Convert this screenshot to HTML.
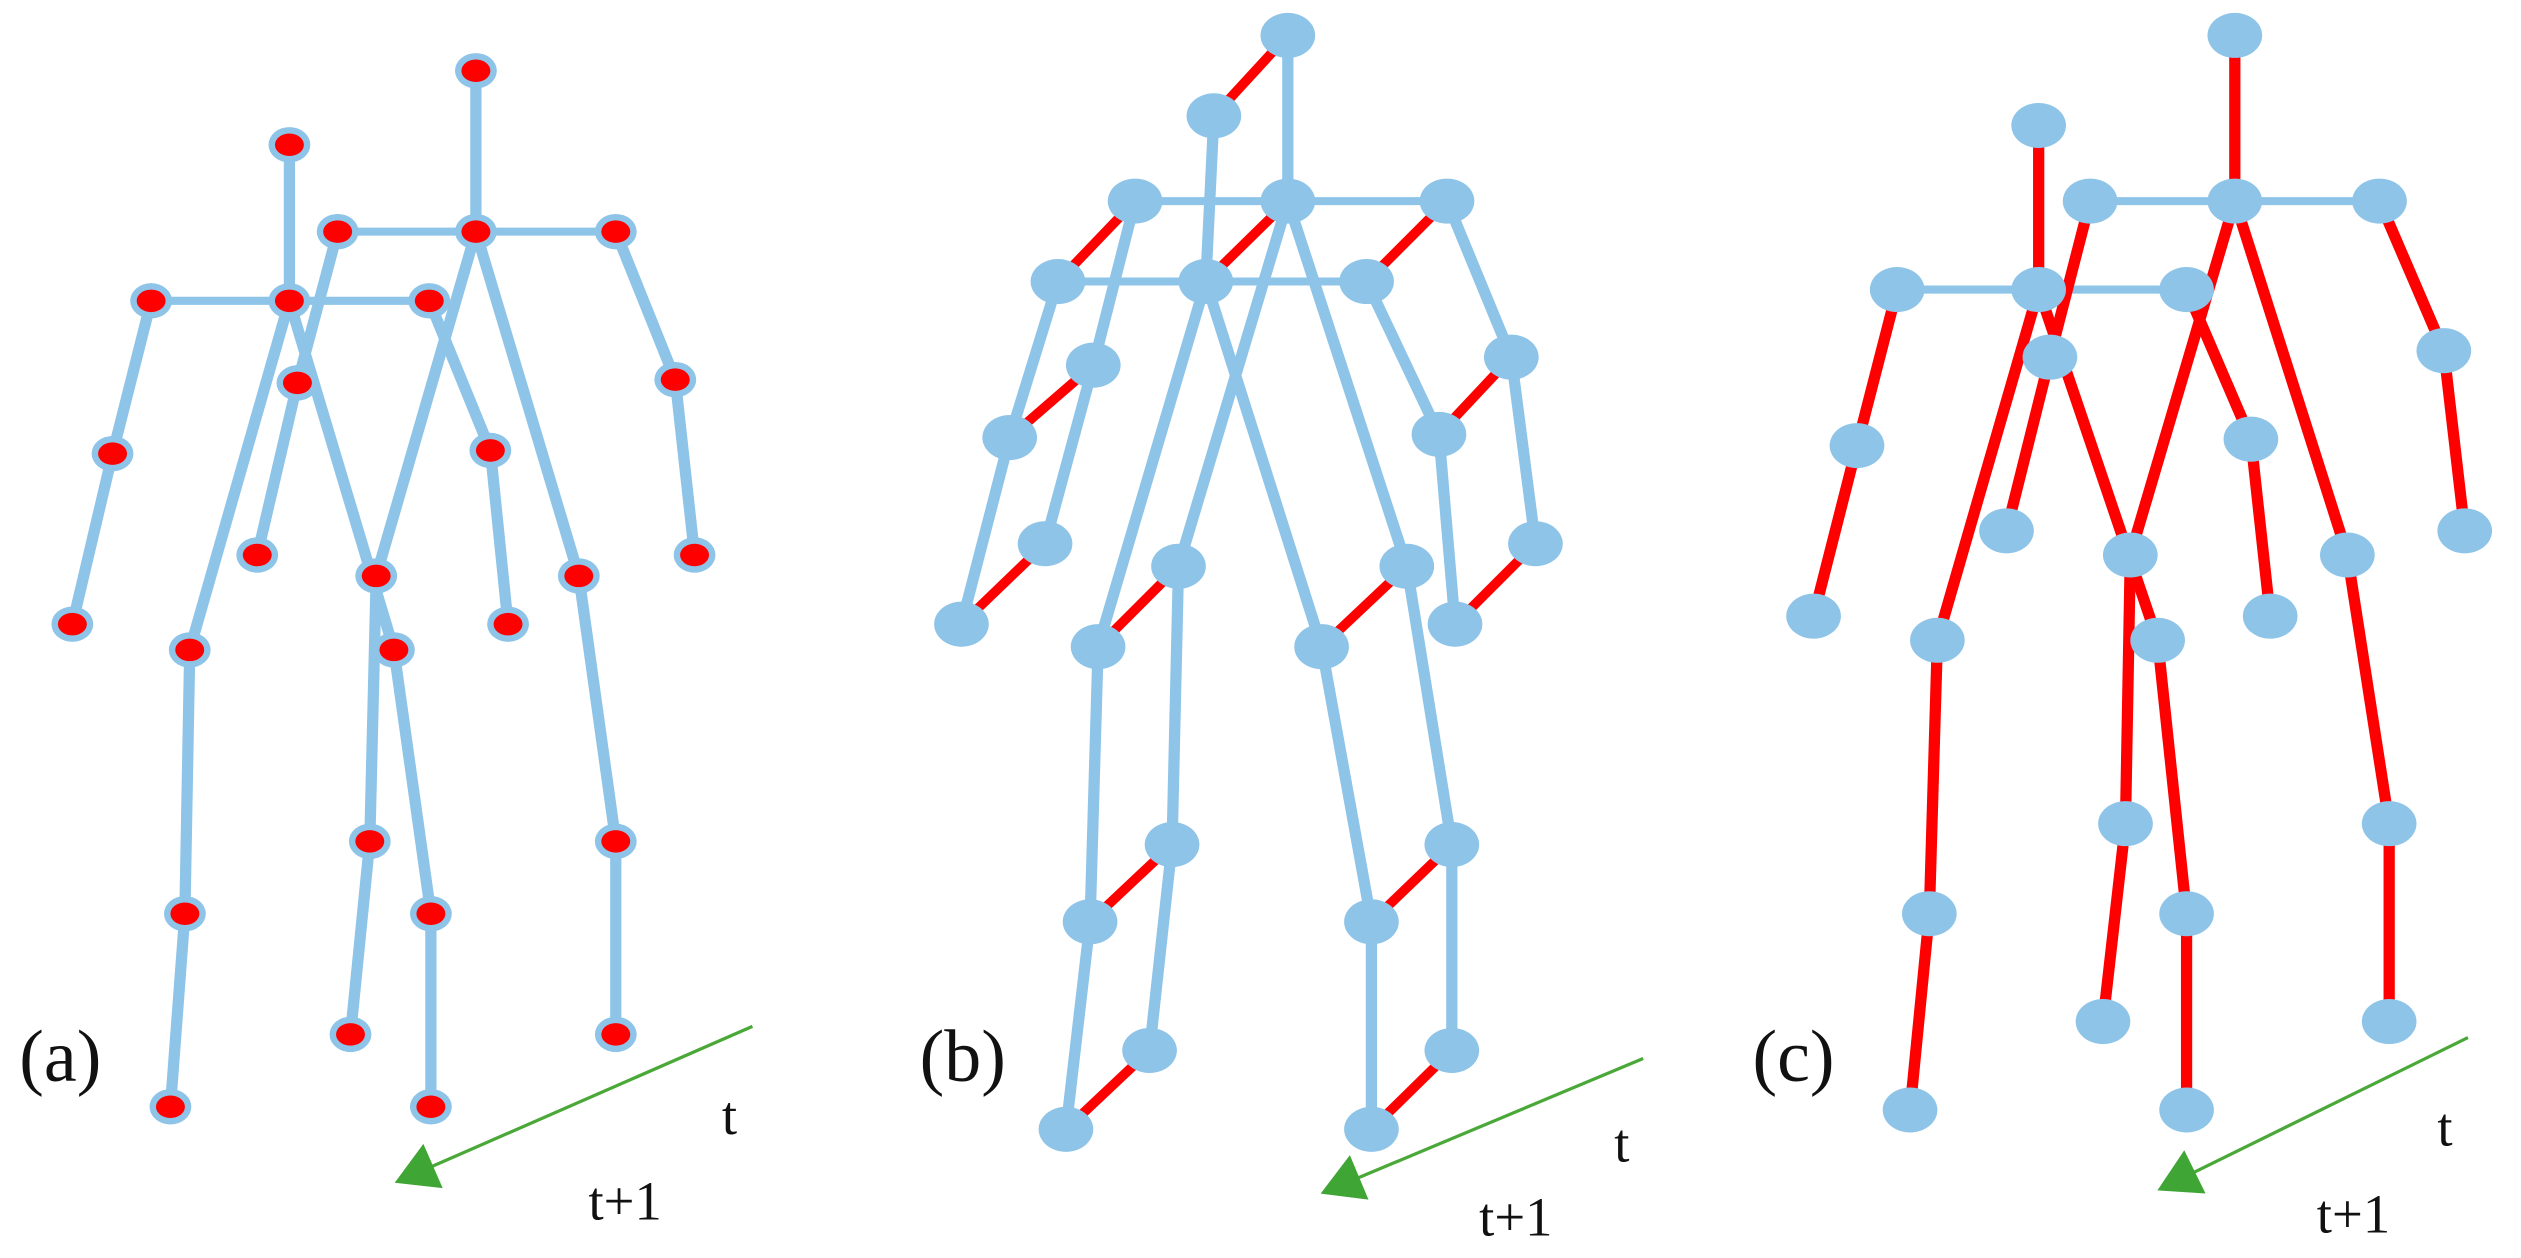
<!DOCTYPE html>
<html><head><meta charset="utf-8"><style>html,body{margin:0;padding:0;background:#fff}svg{display:block}</style></head>
<body>
<svg id="s" width="2521" height="1258" viewBox="0 0 1568 782" preserveAspectRatio="none" xmlns="http://www.w3.org/2000/svg">
<g id="g"></g>
<g font-family="Liberation Serif, serif" fill="#111">
<text x="12" y="672" font-size="46">(a)</text>
<text x="449" y="705" font-size="34">t</text>
<text x="366" y="758" font-size="34">t+1</text>
<text x="572" y="672" font-size="46">(b)</text>
<text x="1004" y="722" font-size="34">t</text>
<text x="920" y="768" font-size="34">t+1</text>
<text x="1090" y="672" font-size="46">(c)</text>
<text x="1516" y="712" font-size="34">t</text>
<text x="1441" y="766" font-size="34">t+1</text>
</g>
</svg>
<script>
var NS="http://www.w3.org/2000/svg",G=document.getElementById("g");
function el(t,a){var e=document.createElementNS(NS,t);for(var k in a)e.setAttribute(k,a[k]);G.appendChild(e);return e;}
var E=[[0,1],[1,2],[1,3],[2,4],[4,5],[3,6],[6,7],[1,8],[1,9],[8,10],[10,11],[9,12],[12,13]];
var BL="#8ec4e8",RD="#ff0000";
function isSh(e){return (e[0]==1&&(e[1]==2||e[1]==3));}
function bones(P,col,colSh){E.forEach(function(e){var a=P[e[0]],b=P[e[1]];var sh=isSh(e);
el("line",{x1:a[0],y1:a[1],x2:b[0],y2:b[1],stroke:sh?colSh:col,"stroke-width":sh?5:7});});}
function arrow(x1,y1,x2,y2){el("line",{x1:x1,y1:y1,x2:x2,y2:y2,stroke:"#4aa838","stroke-width":2});
var dx=x2-x1,dy=y2-y1,L=Math.hypot(dx,dy),ux=dx/L,uy=dy/L,px=-uy,py=ux;
var tx=x2+ux*18,ty=y2+uy*18,bx=x2-ux*8,by=y2-uy*8;
el("polygon",{points:[tx,ty,bx+px*15,by+py*15,bx-px*15,by-py*15].join(" "),fill:"#3fa535"});}
var A1=[[296,44],[296,144],[210,144],[383,144],[185,238],[160,345],[420,236],[432,345],[234,358],[360,358],[230,523],[218,643],[383,523],[383,643]];
var A2=[[180,90],[180,187],[94,187],[267,187],[70,282],[45,388],[305,280],[316,388],[118,404],[245,404],[115,568],[106,688],[268,568],[268,688]];
bones(A1,BL,BL);bones(A2,BL,BL);
[A1,A2].forEach(function(P){P.forEach(function(p){el("ellipse",{cx:p[0],cy:p[1],rx:13,ry:11,fill:BL});el("ellipse",{cx:p[0],cy:p[1],rx:9,ry:7,fill:RD});});});
arrow(468,638,262,728);
var B1=[[801,22],[801,125],[706,125],[900,125],[680,227],[650,338],[940,222],[955,338],[733,352],[875,352],[729,525],[715,653],[903,525],[903,653]];
var B2=[[755,72],[750,175],[658,175],[850,175],[628,272],[598,388],[895,270],[905,388],[683,402],[822,402],[678,573],[663,702],[853,573],[853,702]];
B1.forEach(function(p,i){var q=B2[i];el("line",{x1:p[0],y1:p[1],x2:q[0],y2:q[1],stroke:RD,"stroke-width":6});});
bones(B1,BL,BL);bones(B2,BL,BL);
[B1,B2].forEach(function(P){P.forEach(function(p){el("ellipse",{cx:p[0],cy:p[1],rx:17,ry:14,fill:BL});});});
arrow(1022,658,838,735);
var C1=[[1390,22],[1390,125],[1300,125],[1480,125],[1275,222],[1248,330],[1520,218],[1533,330],[1325,345],[1460,345],[1322,512],[1308,635],[1486,512],[1486,635]];
var C2=[[1268,78],[1268,180],[1180,180],[1360,180],[1155,277],[1128,383],[1400,273],[1412,383],[1205,398],[1342,398],[1200,568],[1188,690],[1360,568],[1360,690]];
bones(C2,RD,BL);bones(C1,RD,BL);
[C1,C2].forEach(function(P){P.forEach(function(p){el("ellipse",{cx:p[0],cy:p[1],rx:17,ry:14,fill:BL});});});
arrow(1535,645,1358,732);
</script>
</body></html>
